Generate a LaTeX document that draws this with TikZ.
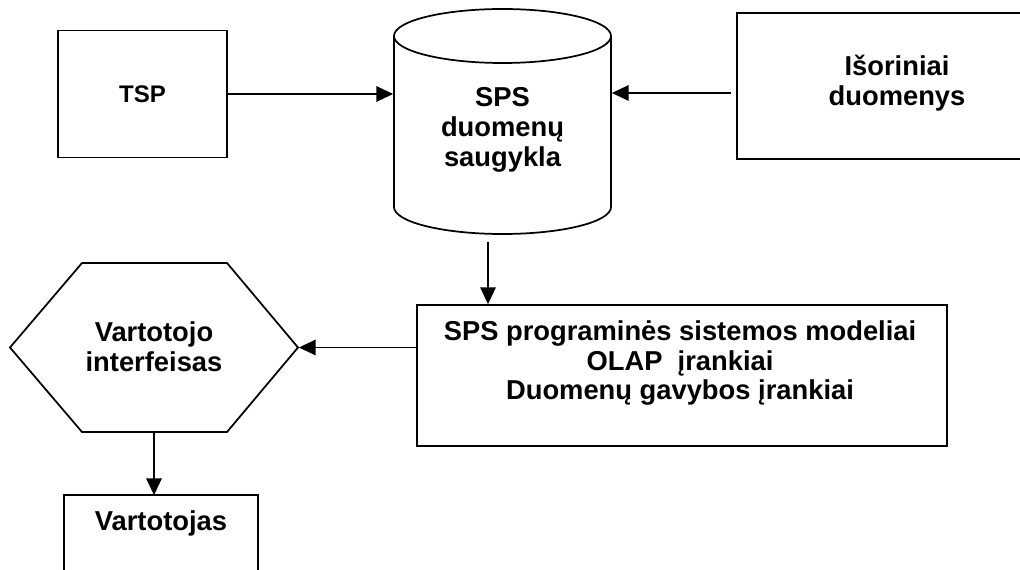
\documentclass[tikz,border=0pt]{standalone}
\usepackage{fontspec}
\setmainfont{Liberation Sans}
\usetikzlibrary{arrows.meta}
\begin{document}
\begin{tikzpicture}[x=0.75pt,y=-0.75pt, line width=1.3pt,
  arr/.style={-{Triangle[length=12.5pt,width=11.5pt]}},
  lbl/.style={font=\fontsize{20.5}{22.5}\selectfont\bfseries, align=center, inner sep=0pt},
  boxshape/.style={draw, inner sep=0pt},
  ghost/.style={inner sep=0pt}]
\useasboundingbox (0,0) rectangle (1020,570);

% TSP
\node[boxshape, minimum width=126.75pt, minimum height=95.25pt,
      lbl, font=\fontsize{18}{20}\selectfont\bfseries] (tsp) at (142.5,94) {TSP};

% cylinder
\node[ghost, minimum width=162.75pt, minimum height=128.25pt] (dbbody) at (502.5,121.5) {};
\draw (502.5,36) ellipse [x radius=81.375pt, y radius=20.25pt];
\draw (394,36) -- (394,207) arc[start angle=180, end angle=360, x radius=81.375pt, y radius=20.25pt] -- (611,36);
\node[lbl] (db) at (502.5,130) {SPS\\duomenų\\saugykla};

% external data
\node[ghost, minimum width=211.5pt, minimum height=108pt] (extbox) at (879,86) {};
\draw (extbox.north east) -- (extbox.north west) -- (extbox.south west) -- (extbox.south east);
\node[lbl] (ext) at (897,83) {Išoriniai\\duomenys};
\coordinate (extout) at (731,93);

% SPS tools
\node[boxshape, minimum width=397.5pt, minimum height=105.75pt] (sps) at (682,375.5) {};
\node[lbl, font=\fontsize{20.5}{22}\selectfont\bfseries] (spstxt) at (680,363)
  {SPS programinės sistemos modeliai\\OLAP\ \ įrankiai\\Duomenų gavybos įrankiai};
\coordinate (dbout) at (488,242);

% user interface hexagon
\node[ghost, minimum width=216pt, minimum height=126.75pt] (ui) at (154,347.5) {};
\draw (10,347.5) -- (82,263) -- (227,263) -- (298,347.5) -- (227,432) -- (82,432) -- cycle;
\node[lbl] (uitxt) at (154,347) {Vartotojo\\interfeisas};

% user
\node[ghost, minimum width=144pt, minimum height=55.5pt] (user) at (161,533) {};
\draw (user.south west) -- (user.north west) -- (user.north east) -- (user.south east);
\node[lbl] (usertxt) at (161,523) {Vartotojas};

% connectors
\draw[arr] (tsp.east) -- (tsp.east -| dbbody.west);
\draw[arr] (extout) -- (extout -| dbbody.east);
\draw[arr] (dbout) -- (dbout |- sps.north);
\draw[arr] (sps.west |- ui.east) -- (ui.east);
\draw[arr] (ui.south) -- (ui.south |- user.north);
\end{tikzpicture}
\end{document}
